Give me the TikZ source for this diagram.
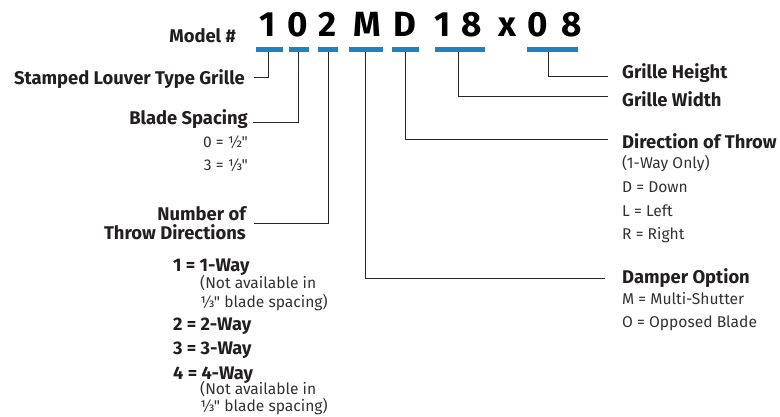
\documentclass[tikz,border=0pt]{standalone}
\usepackage{fontspec}
\setmainfont{Fira Sans}[Ligatures=TeXOff]
\usepackage{xcolor}
\usepackage{tikz}
\definecolor{codeblue}{RGB}{30,130,192}
\definecolor{inkgray}{RGB}{35,31,32}
\definecolor{notegray}{RGB}{50,50,50}
\tikzset{
  codechar/.style={font=\fontsize{35}{35}\selectfont\bfseries,text=black,
    anchor=base,inner sep=0pt},
  codebar/.style={fill=codeblue,inner sep=0pt,minimum height=5pt},
  leader/.style={draw=black!85,line width=0.9pt},
  headlbl/.style={font=\fontsize{18.4}{19}\selectfont\bfseries,text=inkgray,inner sep=0pt},
  notelbl/.style={font=\fontsize{15.6}{17}\selectfont,text=notegray,inner sep=0pt},
  waylbl/.style={font=\fontsize{18.2}{19}\selectfont\bfseries,text=inkgray,
    inner sep=0pt,anchor=base west}
}

\begin{document}
\begin{tikzpicture}[x=1pt,y=-1pt]
  \useasboundingbox (0,0) rectangle (780,416);

  % model code
  \node[headlbl,anchor=base east] (model) at (236,42) {Model \#};
  \node[codechar] (c1) at (268,36.5) {1};
  \node[codechar] (c2) at (298,36.5) {0};
  \node[codechar] (c3) at (328,36.5) {2};
  \node[codechar] (c4) at (367,36.5) {M};
  \node[codechar] (c5) at (405,36.5) {D};
  \node[codechar] (c6) at (443,36.5) {1};
  \node[codechar] (c7) at (472,36.5) {8};
  \node[codechar] (c8) at (507,36.5) {x};
  \node[codechar] (c9) at (538,36.5) {0};
  \node[codechar] (c10) at (572,36.5) {8};

  \node[codebar,minimum width=27pt] (b1) at (269.5,49.5) {};
  \node[codebar,minimum width=20pt] (b2) at (299,49.5) {};
  \node[codebar,minimum width=20pt] (b3) at (328,49.5) {};
  \node[codebar,minimum width=34pt] (b4) at (366,49.5) {};
  \node[codebar,minimum width=27pt] (b5) at (405.5,49.5) {};
  \node[codebar,minimum width=50pt] (b6) at (460,49.5) {};
  \node[codebar,minimum width=51pt] (b7) at (552.5,49.5) {};

  % left side
  \node[headlbl,anchor=base east] (louver) at (245,84) {Stamped Louver Type Grille};
  \node[headlbl,anchor=base east] (blade) at (248,124) {Blade Spacing};
  \node[notelbl,anchor=base east] (bladeA) at (248,147) {0 = ½"};
  \node[notelbl,anchor=base east] (bladeB) at (248,170) {3 = ⅓"};
  \node[headlbl,anchor=east,align=right] (throwdir) at (246,223.5) {Number of\\Throw Directions};

  \node[waylbl] (way1) at (173,271) {1 = 1-Way};
  \node[notelbl,anchor=base west] (way1a) at (200,288) {(Not available in};
  \node[notelbl,anchor=base west] (way1b) at (200,307) {⅓" blade spacing)};
  \node[waylbl] (way2) at (173,330) {2 = 2-Way};
  \node[waylbl] (way3) at (173,354) {3 = 3-Way};
  \node[waylbl] (way4) at (173,379) {4 = 4-Way};
  \node[notelbl,anchor=base west] (way4a) at (200,394) {(Not available in};
  \node[notelbl,anchor=base west] (way4b) at (200,411) {⅓" blade spacing)};

  % right side
  \node[headlbl,anchor=base west] (height) at (622,78) {Grille Height};
  \node[headlbl,anchor=base west] (width) at (622,106) {Grille Width};
  \node[headlbl,anchor=base west] (dir) at (622,148) {Direction of Throw};
  \node[notelbl,anchor=base west] (dirA) at (622,168) {(1-Way Only)};
  \node[notelbl,anchor=base west] (dirB) at (622,192) {D = Down};
  \node[notelbl,anchor=base west] (dirC) at (622,216) {L = Left};
  \node[notelbl,anchor=base west] (dirD) at (622,239) {R = Right};
  \node[headlbl,anchor=base west] (damper) at (622,283) {Damper Option};
  \node[notelbl,anchor=base west] (damperA) at (622,304) {M = Multi-Shutter};
  \node[notelbl,anchor=base west] (damperB) at (622,327) {O = Opposed Blade};

  % leaders
  \draw[leader] ([xshift=-1.5pt]b1.south) |- ([xshift=9pt,yshift=1pt]louver.east);
  \draw[leader] ([xshift=-1pt]b2.south) |- ([xshift=5pt,yshift=-4pt]blade.east);
  \draw[leader] (b3.south) |- ([xshift=8pt]throwdir.east);
  \draw[leader] ([xshift=-1pt]b4.south) |- ([xshift=-17pt,yshift=-1pt]damper.west);
  \draw[leader] (b5.south) |- ([xshift=-14pt,yshift=1pt]dir.west);
  \draw[leader] ([xshift=-2pt]b6.south) |- ([xshift=-14pt,yshift=2pt]width.west);
  \draw[leader] ([xshift=-4.5pt]b7.south) |- ([xshift=-14pt,yshift=-4pt]height.west);
\end{tikzpicture}
\end{document}
